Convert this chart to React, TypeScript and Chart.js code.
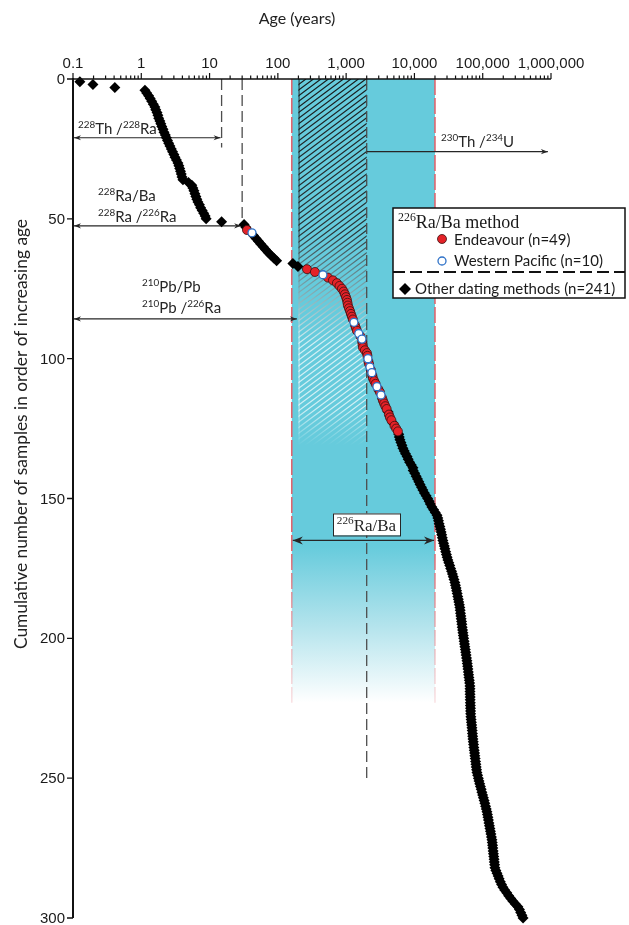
import React, { useEffect, useRef } from 'react';
import { Chart, registerables } from 'chart.js';

Chart.register(...registerables);

// Age (years) of every sample, in order of increasing age (cumulative rank = index + 1)
const ages: number[] = [
  0.126, 0.196, 0.41, 1.13, 1.2, 1.28, 1.35, 1.42, 1.5, 1.58,
  1.63, 1.7, 1.75, 1.8, 1.87, 1.93, 2.0, 2.08, 2.15, 2.25,
  2.33, 2.42, 2.52, 2.63, 2.75, 2.87, 3.0, 3.12, 3.27, 3.44,
  3.55, 3.65, 3.75, 3.85, 3.95, 4.07, 4.9, 5.5, 5.7, 5.9,
  6.1, 6.3, 6.5, 6.76, 7.1, 7.4, 7.8, 8.2, 8.6, 8.9,
  15, 32, 34, 35.3, 41.8, 44, 48, 52, 56, 61,
  66, 72, 79, 87, 96, 166, 197, 267, 349, 457,
  541, 641, 733, 800, 869, 920, 960, 995, 1027, 1045,
  1062, 1100, 1140, 1175, 1215, 1255, 1300, 1345, 1390, 1438,
  1530, 1620, 1703, 1720, 1740, 1762, 1880, 2015, 2050, 2084,
  2120, 2170, 2229, 2300, 2380, 2420, 2466, 2580, 2700, 2824,
  2970, 3126, 3240, 3350, 3458, 3600, 3750, 3920, 4093, 4230,
  4379, 4600, 4850, 5100, 5400, 5731, 5900, 6000, 6133, 6350,
  6560, 6786, 7100, 7400, 7800, 8100, 8500, 9000, 9510, 9600,
  10100, 10600, 11100, 11600, 12100, 12700, 13300, 14000, 14800, 15600,
  16400, 17100, 18000, 19100, 20200, 21400, 22000, 22500, 23000, 23600,
  24100, 24600, 25100, 25600, 26100, 26700, 27400, 28000, 28700, 29400,
  30100, 30900, 31900, 32900, 33900, 35000, 36000, 37000, 38000, 39150,
  39900, 40700, 41500, 42300, 43100, 43900, 44700, 45500, 46300, 46800,
  47300, 47900, 48400, 49000, 49500, 50100, 50700, 51300, 52000, 52700,
  53400, 54100, 54800, 55600, 56300, 57100, 57900, 58700, 59400, 60100,
  60800, 61500, 62200, 62900, 63600, 64300, 65000, 65100, 65200, 65300,
  65500, 65600, 65800, 66000, 66200, 66400, 66600, 67100, 67700, 68300,
  68900, 69500, 70100, 70700, 71300, 71900, 72700, 73500, 74300, 75100,
  75900, 76700, 77600, 78500, 79400, 80300, 81300, 82300, 84300, 86300,
  88300, 90400, 92600, 94900, 97300, 99700, 102200, 104800, 107400, 110000,
  112700, 115300, 117300, 119300, 121300, 123400, 125500, 127600, 129800, 132000,
  134200, 136500, 137900, 139300, 140700, 142100, 143500, 145000, 146500, 148000,
  149500, 151000, 156000, 162000, 168000, 174000, 181000, 189000, 197700, 210000,
  225000, 240000, 258000, 277000, 300000, 327500, 345000, 360000, 375000, 390000,
];

// Ranks dated with the 226Ra/Ba method
const endeavourRanks: number[] = [
  54, 68, 69, 71, 72, 73, 74, 75, 76, 77, 78, 79, 80, 81, 82, 83, 84, 85, 86,
  88, 89, 90, 92, 94, 95, 96, 97, 98, 99, 101, 102, 104, 106, 107, 108, 109,
  111, 112, 114, 115, 116, 117, 118, 120, 121, 122, 124, 125, 126,
];
const westernPacificRanks: number[] = [55, 70, 87, 91, 93, 100, 103, 105, 110, 113];

// Axes
const xTickValues = [0.1, 1, 10, 100, 1000, 10000, 100000, 1000000];
const xTickLabels = ['0.1', '1', '10', '100', '1,000', '10,000', '100,000', '1,000,000'];
const xMinorMultipliers = [2, 3, 4, 5, 6, 7, 8, 9];
const yTickValues = [0, 50, 100, 150, 200, 250, 300];

// Method ranges (years) and annotation ranks
const raBaRange = [160, 20000];
const hatchRange = [200, 2000];
const th228Limit = 15;
const ra228Limit = 30;
const pb210Limit = 190;
const th230Range = [2000, 900000];
const cyanSolidUntilRank = 167;
const cyanFadeUntilRank = 223;
const hatchUntilRank = 131;
const th228LineUntilRank = 24.5;
const ra228LineUntilRank = 52;
const ra226LineUntilRank = 250;
const thArrowRank = 21;
const raArrowRank = 52.5;
const pbArrowRank = 85.8;
const thUArrowRank = 26;
const raBaArrowRank = 165;

type Part = [string, boolean];
const thRaLabel: Part[] = [['228', true], ['Th /', false], ['228', true], ['Ra', false]];
const raBaLabel: Part[] = [['228', true], ['Ra/Ba', false]];
const raRaLabel: Part[] = [['228', true], ['Ra /', false], ['226', true], ['Ra', false]];
const pbPbLabel: Part[] = [['210', true], ['Pb/Pb', false]];
const pbRaLabel: Part[] = [['210', true], ['Pb /', false], ['226', true], ['Ra', false]];
const thULabel: Part[] = [['230', true], ['Th /', false], ['234', true], ['U', false]];
const raBaBoxLabel: Part[] = [['226', true], ['Ra/Ba', false]];
const legendTitle: Part[] = [['226', true], ['Ra/Ba method', false]];
const legendLabels = ['Endeavour (n=49)', 'Western Pacific (n=10)', 'Other dating methods (n=241)'];
const yTitle = 'Cumulative number of samples in order of increasing age';
const xTitle = 'Age (years)';

const SANS = 'Lato, "Open Sans", sans-serif';
const ARIAL = '"Liberation Sans", Arial, sans-serif';
const SERIF = '"Liberation Serif", "DejaVu Serif", serif';
const INK = '#262626';

function drawRich(ctx: CanvasRenderingContext2D, parts: Part[], x: number, y: number, size: number, family: string, align: 'left' | 'center' = 'left') {
  const sup = size * 0.66;
  let total = 0;
  for (const [t, s] of parts) {
    ctx.font = `${s ? sup : size}px ${family}`;
    total += ctx.measureText(t).width;
  }
  let cx = align === 'center' ? x - total / 2 : x;
  ctx.textAlign = 'left';
  ctx.textBaseline = 'alphabetic';
  for (const [t, s] of parts) {
    ctx.font = `${s ? sup : size}px ${family}`;
    ctx.fillText(t, cx, s ? y - size * 0.4 : y);
    cx += ctx.measureText(t).width;
  }
}

function head(ctx: CanvasRenderingContext2D, x: number, y: number, dir: number, len: number, hw: number) {
  ctx.beginPath();
  ctx.moveTo(x, y);
  ctx.lineTo(x - dir * len, y - hw);
  ctx.lineTo(x - dir * len * 0.7, y);
  ctx.lineTo(x - dir * len, y + hw);
  ctx.closePath();
  ctx.fill();
}

function arrow(ctx: CanvasRenderingContext2D, x0: number, x1: number, y: number, left: boolean, right: boolean, len: number, hw: number) {
  ctx.save();
  ctx.strokeStyle = INK;
  ctx.fillStyle = INK;
  ctx.lineWidth = 1.2;
  ctx.setLineDash([]);
  ctx.beginPath();
  ctx.moveTo(x0, y);
  ctx.lineTo(x1, y);
  ctx.stroke();
  if (left) head(ctx, x0, y, -1, len, hw);
  if (right) head(ctx, x1, y, 1, len, hw);
  ctx.restore();
}

const decorPlugin = {
  id: 'decor',
  beforeDatasetsDraw(chart: any) {
    const { ctx, scales } = chart;
    const X = (v: number) => scales.x.getPixelForValue(v);
    const Y = (v: number) => scales.y.getPixelForValue(v);
    const top = Y(0);
    ctx.save();

    // cyan 226Ra/Ba window
    const c0 = X(raBaRange[0]);
    const c1 = X(raBaRange[1]);
    const fs = Y(cyanSolidUntilRank);
    const fe = Y(cyanFadeUntilRank);
    const s = (fs - top) / (fe - top);
    const g = ctx.createLinearGradient(0, top, 0, fe);
    g.addColorStop(0, '#66cbdc');
    g.addColorStop(s, '#66cbdc');
    g.addColorStop(s + (1 - s) * 0.5, '#b2e3ec');
    g.addColorStop(1, '#ffffff');
    ctx.fillStyle = g;
    ctx.fillRect(c0, top, c1 - c0, fe - top);

    // hatched window
    const h0 = X(hatchRange[0]);
    const h1 = X(hatchRange[1]);
    const hb = Y(hatchUntilRank);
    const hg = ctx.createLinearGradient(0, top, 0, hb);
    hg.addColorStop(0, 'rgba(20,20,20,0.95)');
    hg.addColorStop(0.42, 'rgba(35,35,35,0.9)');
    hg.addColorStop(0.56, 'rgba(120,150,156,0.85)');
    hg.addColorStop(0.72, 'rgba(232,246,249,0.85)');
    hg.addColorStop(0.9, 'rgba(255,255,255,0.7)');
    hg.addColorStop(1, 'rgba(255,255,255,0)');
    ctx.save();
    ctx.beginPath();
    ctx.rect(h0, top, h1 - h0, hb - top);
    ctx.clip();
    ctx.strokeStyle = hg;
    ctx.lineWidth = 1.2;
    const m = 0.75;
    const run = (hb - top) / m;
    ctx.beginPath();
    for (let k = -run; k < h1 - h0 + 10; k += 7.5) {
      ctx.moveTo(h0 + k, hb);
      ctx.lineTo(h0 + k + run, top);
    }
    ctx.stroke();
    ctx.beginPath();
    ctx.moveTo(h0 + 0.5, top);
    ctx.lineTo(h0 + 0.5, hb);
    ctx.stroke();
    ctx.restore();

    // red dashed edges of cyan window
    const rg = ctx.createLinearGradient(0, top, 0, fe);
    rg.addColorStop(0, '#df5f68');
    rg.addColorStop(s, '#df5f68');
    rg.addColorStop(1, 'rgba(240,180,185,0.4)');
    ctx.strokeStyle = rg;
    ctx.lineWidth = 1.5;
    ctx.setLineDash([16, 3]);
    for (const xv of [c0, c1]) {
      ctx.beginPath();
      ctx.moveTo(xv, top);
      ctx.lineTo(xv, fe);
      ctx.stroke();
    }

    // grey dashed method limits
    ctx.strokeStyle = '#4d4d4d';
    ctx.lineWidth = 1.3;
    ctx.setLineDash([11, 5]);
    const lims: [number, number][] = [[th228Limit, th228LineUntilRank], [ra228Limit, ra228LineUntilRank], [hatchRange[1], ra226LineUntilRank]];
    for (const [a, r] of lims) {
      ctx.beginPath();
      ctx.moveTo(X(a), top);
      ctx.lineTo(X(a), Y(r));
      ctx.stroke();
    }
    ctx.setLineDash([]);

    // method arrows
    const x0 = X(0.1) + 1;
    arrow(ctx, x0, X(th228Limit) - 1, Y(thArrowRank), true, true, 7, 2.6);
    arrow(ctx, x0, X(ra228Limit) - 1, Y(raArrowRank), true, true, 7, 2.6);
    arrow(ctx, x0, X(pb210Limit), Y(pbArrowRank), true, true, 7, 2.6);
    arrow(ctx, X(th230Range[0]), X(th230Range[1]), Y(thUArrowRank), false, true, 7, 2.6);
    arrow(ctx, c0 + 1, c1 - 1, Y(raBaArrowRank), true, true, 10, 4);

    ctx.fillStyle = INK;
    drawRich(ctx, thRaLabel, 78, Y(thArrowRank) - 4, 15, SANS);
    drawRich(ctx, raBaLabel, 98, Y(raArrowRank) - 25, 15, SANS);
    drawRich(ctx, raRaLabel, 98, Y(raArrowRank) - 4, 15, SANS);
    drawRich(ctx, pbPbLabel, 142, Y(pbArrowRank) - 27, 15, SANS);
    drawRich(ctx, pbRaLabel, 142, Y(pbArrowRank) - 6, 15, SANS);
    drawRich(ctx, thULabel, 441, Y(thUArrowRank) - 5, 15, SANS);

    // 226Ra/Ba box
    const by = Y(raBaArrowRank);
    ctx.fillStyle = '#ffffff';
    ctx.fillRect(333, by - 27, 67, 22);
    ctx.strokeStyle = INK;
    ctx.lineWidth = 1;
    ctx.strokeRect(333.5, by - 26.5, 67, 22);
    ctx.fillStyle = INK;
    drawRich(ctx, raBaBoxLabel, 366.5, by - 9.5, 17, SERIF, 'center');
    ctx.restore();
  },
  afterDatasetsDraw(chart: any) {
    const { ctx, scales, chartArea } = chart;
    const X = (v: number) => scales.x.getPixelForValue(v);
    const Y = (v: number) => scales.y.getPixelForValue(v);
    const top = chartArea.top;
    const left = chartArea.left;
    ctx.save();
    ctx.strokeStyle = '#111';
    ctx.fillStyle = '#111';
    ctx.setLineDash([]);

    // top x axis
    ctx.lineWidth = 1.6;
    ctx.beginPath();
    ctx.moveTo(left - 1, top);
    ctx.lineTo(chartArea.right, top);
    ctx.stroke();
    ctx.lineWidth = 1.2;
    ctx.beginPath();
    xTickValues.forEach((v, i) => {
      const px = X(v);
      ctx.moveTo(px, top);
      ctx.lineTo(px, top - 6);
      if (i < xTickValues.length - 1) {
        for (const mlt of xMinorMultipliers) {
          const mx = X(v * mlt);
          ctx.moveTo(mx, top);
          ctx.lineTo(mx, top - 3.5);
        }
      }
    });
    ctx.stroke();
    ctx.font = `15px ${ARIAL}`;
    ctx.textAlign = 'center';
    ctx.textBaseline = 'alphabetic';
    ctx.fillStyle = '#1a1a1a';
    xTickValues.forEach((v, i) => ctx.fillText(xTickLabels[i], X(v), top - 11));

    // left y axis
    ctx.lineWidth = 2;
    ctx.beginPath();
    ctx.moveTo(left, top - 1);
    ctx.lineTo(left, chartArea.bottom);
    ctx.stroke();
    ctx.lineWidth = 1.3;
    ctx.beginPath();
    yTickValues.forEach((v) => {
      ctx.moveTo(left, Y(v));
      ctx.lineTo(left - 6, Y(v));
    });
    ctx.stroke();
    ctx.textAlign = 'right';
    ctx.textBaseline = 'middle';
    yTickValues.forEach((v) => ctx.fillText(String(v), left - 8, Y(v) + 1));

    // titles
    ctx.fillStyle = '#222';
    ctx.font = `16px ${SANS}`;
    ctx.textAlign = 'center';
    ctx.textBaseline = 'middle';
    ctx.fillText(xTitle, 297, 19);
    ctx.save();
    ctx.translate(21, 434);
    ctx.rotate(-Math.PI / 2);
    ctx.font = `18px ${SANS}`;
    const w = ctx.measureText(yTitle).width;
    ctx.scale(Math.min(1, 430 / w), 1);
    ctx.fillText(yTitle, 0, 0);
    ctx.restore();

    // legend
    ctx.fillStyle = '#ffffff';
    ctx.fillRect(393, 208, 232, 90);
    ctx.strokeStyle = '#111';
    ctx.lineWidth = 1.5;
    ctx.strokeRect(393, 208, 232, 90);
    ctx.setLineDash([12, 5]);
    ctx.lineWidth = 1.8;
    ctx.beginPath();
    ctx.moveTo(393, 272);
    ctx.lineTo(625, 272);
    ctx.stroke();
    ctx.setLineDash([]);
    ctx.fillStyle = '#1a1a1a';
    drawRich(ctx, legendTitle, 398, 228, 18, SERIF);
    ctx.beginPath();
    ctx.arc(442, 239, 4.5, 0, Math.PI * 2);
    ctx.fillStyle = '#e42228';
    ctx.fill();
    ctx.lineWidth = 0.8;
    ctx.strokeStyle = '#3a1010';
    ctx.stroke();
    ctx.beginPath();
    ctx.arc(442, 261, 4, 0, Math.PI * 2);
    ctx.fillStyle = '#fff';
    ctx.fill();
    ctx.lineWidth = 1.3;
    ctx.strokeStyle = '#2f72c8';
    ctx.stroke();
    ctx.beginPath();
    ctx.moveTo(399, 289);
    ctx.lineTo(405, 283);
    ctx.lineTo(411, 289);
    ctx.lineTo(405, 295);
    ctx.closePath();
    ctx.fillStyle = '#000';
    ctx.fill();
    ctx.fillStyle = '#1a1a1a';
    ctx.font = `15px ${SANS}`;
    ctx.textAlign = 'left';
    ctx.textBaseline = 'alphabetic';
    ctx.fillText(legendLabels[0], 454, 245);
    ctx.fillText(legendLabels[1], 454, 266);
    ctx.fillText(legendLabels[2], 415, 294);
    ctx.restore();
  },
};

export default function App() {
  const ref = useRef<HTMLCanvasElement>(null);
  useEffect(() => {
    const canvas = ref.current as HTMLCanvasElement;
    const pts = (ranks: number[]) => ranks.map((r) => ({ x: ages[r - 1], y: r }));
    const special = new Set([...endeavourRanks, ...westernPacificRanks]);
    const otherRanks = ages.map((_, i) => i + 1).filter((r) => !special.has(r));
    const chart = new Chart(canvas, {
      type: 'scatter',
      data: {
        datasets: [
          { label: 'Other dating methods', data: pts(otherRanks), pointStyle: 'rectRot', pointRadius: 5.5, backgroundColor: '#000', borderColor: '#000', borderWidth: 0, clip: false, order: 3 } as any,
          { label: 'Endeavour', data: pts(endeavourRanks), pointStyle: 'circle', pointRadius: 4.5, backgroundColor: '#e42228', borderColor: '#3a1010', borderWidth: 0.8, clip: false, order: 2 } as any,
          { label: 'Western Pacific', data: pts(westernPacificRanks), pointStyle: 'circle', pointRadius: 4, backgroundColor: '#ffffff', borderColor: '#2f72c8', borderWidth: 1.3, clip: false, order: 1 } as any,
        ],
      },
      options: {
        animation: false,
        responsive: false,
        devicePixelRatio: 1,
        events: [],
        layout: { padding: { left: 73, right: 78, top: 79, bottom: 7 } },
        plugins: { legend: { display: false }, tooltip: { enabled: false } },
        scales: {
          x: { type: 'logarithmic', min: 0.1, max: 1000000, display: false },
          y: { type: 'linear', min: 0, max: 300, reverse: true, display: false },
        },
      },
      plugins: [decorPlugin],
    });
    return () => chart.destroy();
  }, []);
  return (
    <div style={{ position: 'absolute', left: 0, top: 0, width: 629, height: 925, background: '#fff' }}>
      <canvas ref={ref} width={629} height={925} style={{ display: 'block' }} />
    </div>
  );
}
